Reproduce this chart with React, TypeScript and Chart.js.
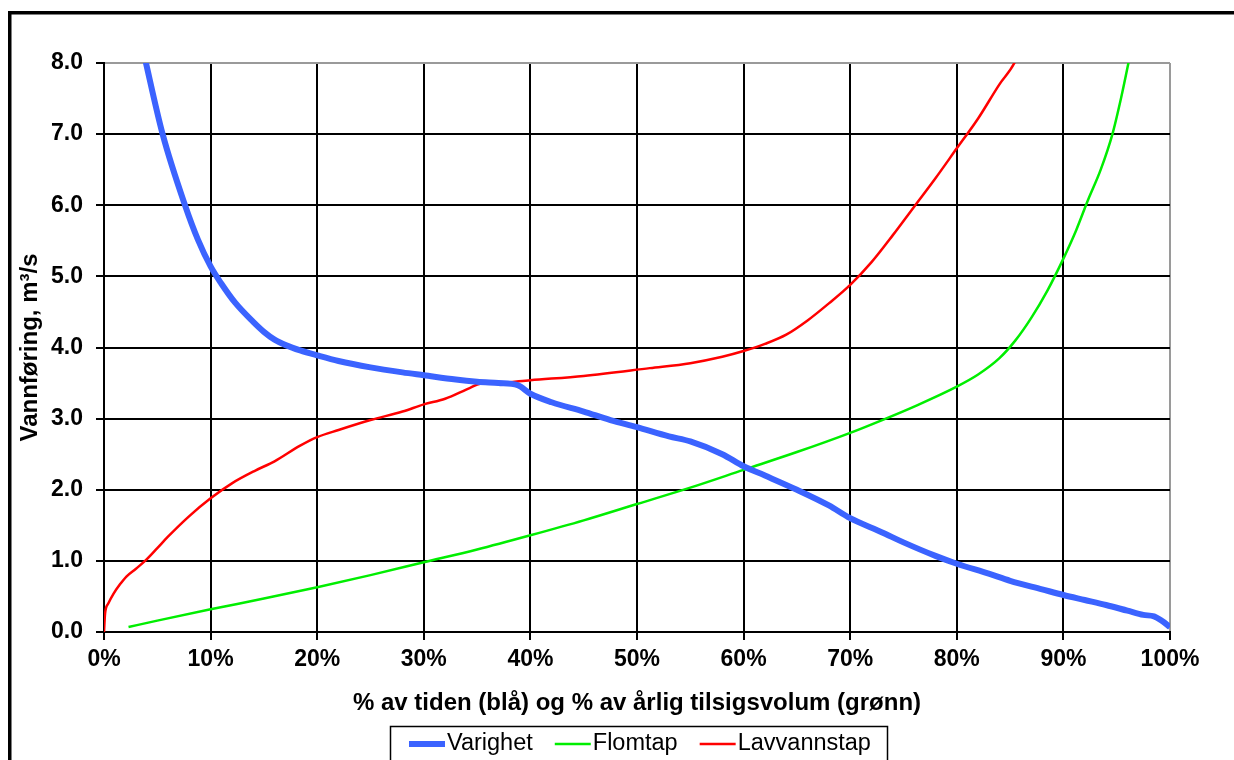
import React, { useEffect, useRef } from "react";
import { Chart, registerables } from "chart.js";

Chart.register(...registerables);

// ---- Data ----
const varighetPct = [3.5, 3.94, 5.5, 7.6, 8.8, 10, 11, 12.3, 14, 15, 16, 17.1, 18.4, 20, 22, 25, 28, 30, 33, 35, 37, 38.8, 40, 42, 45, 47.5, 50, 53, 55, 58, 60, 62, 65, 68, 70, 73, 75, 78, 80, 83, 85, 88, 90, 92, 94, 96, 97.5, 98.5, 99.3, 100];
const varighetVal = [8.3, 8.0, 7.0, 6.0, 5.52, 5.14, 4.9, 4.63, 4.36, 4.22, 4.11, 4.03, 3.96, 3.89, 3.81, 3.72, 3.65, 3.61, 3.55, 3.52, 3.5, 3.47, 3.35, 3.23, 3.1, 2.98, 2.88, 2.75, 2.68, 2.5, 2.33, 2.2, 2.0, 1.78, 1.6, 1.4, 1.26, 1.07, 0.96, 0.82, 0.72, 0.6, 0.52, 0.45, 0.38, 0.3, 0.24, 0.22, 0.15, 0.07];

const flomtapPct = [2.3, 5, 10, 15, 20, 25, 30, 35, 40, 45, 50, 55, 60, 65, 70, 73, 76, 80, 82, 84, 85.5, 87, 88.5, 90, 91.2, 92.3, 93.5, 94.6, 95.4, 96.1, 96.5];
const flomtapVal = [0.07, 0.16, 0.32, 0.47, 0.63, 0.8, 0.98, 1.16, 1.36, 1.57, 1.8, 2.03, 2.28, 2.53, 2.8, 2.98, 3.17, 3.45, 3.62, 3.85, 4.1, 4.42, 4.8, 5.25, 5.65, 6.07, 6.5, 7.0, 7.5, 8.0, 8.3];

const lavvannPct = [0, 0.1, 0.4, 0.9, 1.5, 2.1, 3, 3.85, 5, 6, 8, 10, 12, 14.2, 16, 18.4, 20, 22, 25, 28, 30, 32, 34.3, 35.3, 37, 40, 45, 51.2, 55, 58, 60, 62, 64, 66, 68, 70, 72, 74, 76, 78, 80, 82, 84, 85.4, 85.8];
const lavvannVal = [0.0, 0.26, 0.4, 0.54, 0.67, 0.78, 0.89, 1.0, 1.18, 1.34, 1.63, 1.88, 2.09, 2.27, 2.4, 2.62, 2.74, 2.84, 2.98, 3.1, 3.2, 3.28, 3.43, 3.49, 3.5, 3.54, 3.6, 3.71, 3.78, 3.87, 3.95, 4.05, 4.18, 4.38, 4.62, 4.88, 5.2, 5.58, 5.98, 6.38, 6.8, 7.22, 7.7, 8.0, 8.15];

const seriesNames = ["Varighet", "Flomtap", "Lavvannstap"];
const seriesColors = ["#3b63ff", "#00ee00", "#ff0000"];
const seriesWidths = [6, 2.5, 2.5];

const xTitle = "% av tiden (blå) og % av årlig tilsigsvolum (grønn)";
const yTitle = "Vannføring, m³/s";
const xMin = 0, xMax = 100, xStep = 10;
const yMin = 0, yMax = 8, yStep = 1;

const FONT = '"Liberation Sans", Arial, sans-serif';

const toPoints = (xs: number[], ys: number[]) => xs.map((x, i) => ({ x, y: ys[i] }));

const framePlugin = {
  id: "frameAndLegend",
  afterDraw(chart: any) {
    const ctx = chart.ctx as CanvasRenderingContext2D;
    ctx.save();
    // outer frame (left + top)
    ctx.fillStyle = "#000";
    ctx.fillRect(8, 11, 1234, 3.5);
    ctx.fillRect(8, 11, 3.5, 760);

    // legend box
    ctx.strokeStyle = "#000";
    ctx.lineWidth = 1.5;
    ctx.strokeRect(390.5, 726.5, 497, 60);

    ctx.font = `23.5px ${FONT}`;
    ctx.textBaseline = "middle";
    ctx.textAlign = "left";
    let x = 409;
    const yLine = 744;
    seriesNames.forEach((name, i) => {
      ctx.strokeStyle = seriesColors[i];
      ctx.lineWidth = seriesWidths[i];
      ctx.lineCap = "butt";
      ctx.beginPath();
      ctx.moveTo(x, yLine);
      ctx.lineTo(x + 36, yLine);
      ctx.stroke();
      x += 38;
      ctx.fillStyle = "#000";
      ctx.fillText(name, x, 744);
      x += ctx.measureText(name).width + 22;
    });
    ctx.restore();
  },
};

export default function App() {
  const ref = useRef<HTMLCanvasElement>(null);

  useEffect(() => {
    document.body.style.margin = "0";
    const datasets = [
      { label: seriesNames[0], data: toPoints(varighetPct, varighetVal) },
      { label: seriesNames[1], data: toPoints(flomtapPct, flomtapVal) },
      { label: seriesNames[2], data: toPoints(lavvannPct, lavvannVal) },
    ].map((d, i) => ({
      ...d,
      borderColor: seriesColors[i],
      backgroundColor: seriesColors[i],
      borderWidth: seriesWidths[i],
      pointRadius: 0,
      fill: false,
      cubicInterpolationMode: "monotone" as const,
      clip: 0,
    }));

    const chart = new Chart(ref.current!, {
      type: "line",
      data: { datasets },
      options: {
        animation: false,
        responsive: false,
        parsing: false as any,
        layout: { padding: { left: 0, top: 63, right: 64, bottom: 0 } },
        plugins: {
          legend: { display: false },
          tooltip: { enabled: false },
        },
        scales: {
          x: {
            type: "linear",
            min: xMin,
            max: xMax,
            afterFit: (s: any) => { s.height = 128; },
            ticks: {
              stepSize: xStep,
              callback: (v: any) => `${v}%`,
              color: "#000",
              font: { family: FONT, size: 23, weight: "bold" },
              padding: 6,
              maxRotation: 0,
            },
            grid: {
              color: (c: any) => (c.tick && c.tick.value === xMax ? "#9a9a9a" : "#000"),
              lineWidth: 2,
              tickColor: "#000",
              tickLength: 8,
            },
            border: { color: "#000", width: 2 },
            title: {
              display: true,
              text: xTitle,
              color: "#000",
              font: { family: FONT, size: 24, weight: "bold" },
              padding: { top: 0, bottom: 42 },
            },
          },
          y: {
            type: "linear",
            min: yMin,
            max: yMax,
            afterFit: (s: any) => { s.width = 104; },
            ticks: {
              stepSize: yStep,
              callback: (v: any) => Number(v).toFixed(1),
              color: "#000",
              font: { family: FONT, size: 23, weight: "bold" },
              padding: 13,
            },
            grid: {
              color: (c: any) => (c.tick && c.tick.value === yMax ? "#9a9a9a" : "#000"),
              lineWidth: 2,
              tickColor: "#000",
              tickLength: 8,
            },
            border: { color: "#000", width: 2 },
            title: {
              display: true,
              text: yTitle,
              color: "#000",
              font: { family: FONT, size: 24, weight: "bold" },
              padding: { top: 16, bottom: 0 },
            },
          },
        },
      },
      plugins: [framePlugin],
    });
    return () => chart.destroy();
  }, []);

  return (
    <div style={{ position: "fixed", left: 0, top: 0, width: 1234, height: 760, background: "#fff" }}>
      <canvas ref={ref} width={1234} height={760} style={{ display: "block", width: 1234, height: 760 }} />
    </div>
  );
}
